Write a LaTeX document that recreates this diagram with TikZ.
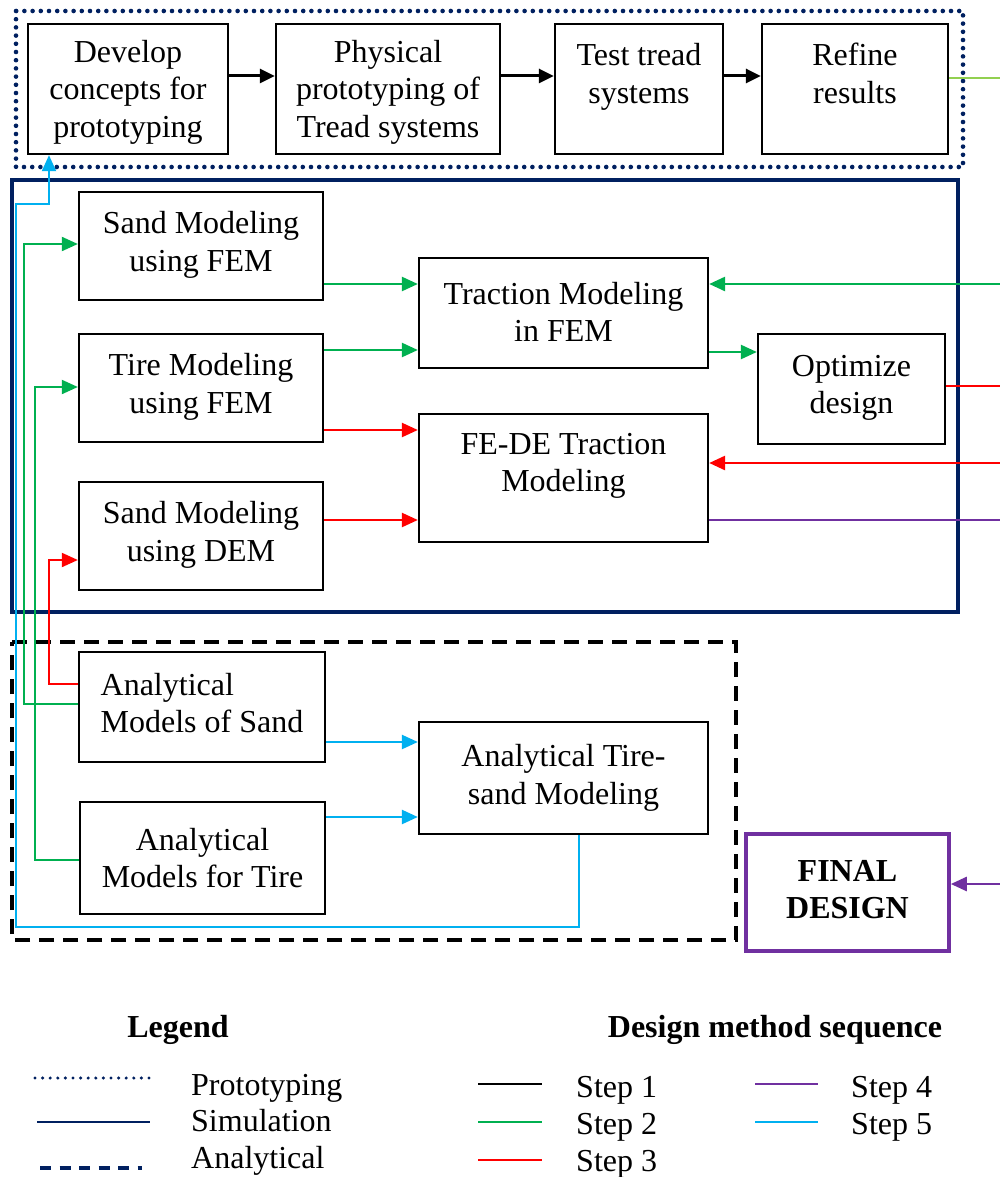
\documentclass[tikz,border=0pt]{standalone}
\usepackage{fontspec}
\setmainfont{Liberation Serif}
\usetikzlibrary{arrows.meta}
\definecolor{navy}{HTML}{002060}
\definecolor{sgreen}{HTML}{00B050}
\definecolor{sred}{HTML}{FF0000}
\definecolor{spurple}{HTML}{7030A0}
\definecolor{sblue}{HTML}{00B0F0}
\definecolor{lgreen}{HTML}{92D050}
\begin{document}
\begin{tikzpicture}[x=1pt,y=-1pt,
  txt/.style={font=\fontsize{32}{37.5}\selectfont},
  btxt/.style={font=\fontsize{32}{37.5}\selectfont\bfseries},
  box/.style={draw=black, line width=2.3pt, inner sep=0pt},
  lbl/.style={txt, align=center, inner sep=0pt},
  tip/.style={-{Triangle[length=16pt,width=14pt]}},
  blk/.style={draw=black, line width=3pt, -{Triangle[length=15pt,width=14pt]}},
  gr/.style={draw=sgreen, line width=2.4pt},
  rd/.style={draw=sred, line width=2.4pt},
  pu/.style={draw=spurple, line width=2pt},
  bl/.style={draw=sblue, line width=2pt},
  lg/.style={draw=lgreen, line width=2pt},
  protoframe/.style={draw=navy, line width=4.6pt, line cap=round, dash pattern=on 0pt off 8.2pt},
  simframe/.style={draw=navy, line width=4pt},
  anaframe/.style={draw=black, line width=4pt, dash pattern=on 15pt off 9pt},
]
\useasboundingbox (0,0) rectangle (1000,1177);
\fill[white] (0,0) rectangle (1000,1177);

% frames
\draw[protoframe] (16,11) rectangle (963,167);
\draw[simframe] (12,180) rectangle (958,612);
\draw[anaframe] (12,642) -- (736,642) -- (736,940) -- (12,940) -- cycle;

% top row
\node[box, minimum width=200pt, minimum height=130pt] (dev) at (128,89) {};
\node[box, minimum width=224pt, minimum height=130pt] (phys) at (388,89) {};
\node[box, minimum width=168pt, minimum height=130pt] (test) at (639,89) {};
\node[box, minimum width=186pt, minimum height=130pt] (ref) at (855,89) {};
\node[lbl] (devt) at ([yshift=-3pt]dev.center) {Develop\\concepts for\\prototyping};
\node[lbl] (physt) at ([yshift=-3pt]phys.center) {Physical\\prototyping of\\Tread systems};
\node[lbl] (testt) at ([yshift=-3pt]test.center) {Test tread\\systems\\\mbox{}};
\node[lbl] (reft) at ([yshift=-3pt]ref.center) {Refine\\results\\\mbox{}};

% simulation
\node[box, minimum width=244pt, minimum height=108pt] (sfem) at (201,246) {};
\node[box, minimum width=244pt, minimum height=108pt] (tfem) at (201,388) {};
\node[box, minimum width=244pt, minimum height=108pt] (sdem) at (201,536) {};
\node[box, minimum width=289pt, minimum height=110pt] (trac) at (563.5,313) {};
\node[box, minimum width=289pt, minimum height=128pt] (fede) at (563.5,478) {};
\node[box, minimum width=187pt, minimum height=110pt] (opt) at (851.5,389) {};
\node[lbl] (sfemt) at ([yshift=1pt]sfem.center) {Sand Modeling\\using FEM};
\node[lbl] (tfemt) at ([yshift=1pt]tfem.center) {Tire Modeling\\using FEM};
\node[lbl] (sdemt) at ([yshift=1pt]sdem.center) {Sand Modeling\\using DEM};
\node[lbl] (tract) at ([yshift=1pt]trac.center) {Traction Modeling\\in FEM};
\node[lbl] (fedet) at ([yshift=-3pt]fede.center) {FE-DE Traction\\Modeling\\\mbox{}};
\node[lbl] (optt) at ([yshift=1pt]opt.center) {Optimize\\design};

% analytical
\node[box, minimum width=246pt, minimum height=110pt] (asand) at (202,707) {};
\node[box, minimum width=245pt, minimum height=112pt] (atire) at (202.5,858) {};
\node[box, minimum width=289pt, minimum height=112pt] (ats) at (563.5,778) {};
\node[box, draw=spurple, line width=3.6pt, minimum width=203pt, minimum height=117pt] (final) at (847.5,892.5) {};
\node[lbl, align=left] (asandt) at ([yshift=4pt]asand.center) {Analytical\\Models of Sand};
\node[lbl] (atiret) at (atire.center) {Analytical\\Models for Tire};
\node[lbl] (atst) at (ats.center) {Analytical Tire-\\sand Modeling};
\node[lbl, btxt] (finalt) at ([yshift=3pt]final.center) {FINAL\\DESIGN};

% right edge coordinates
\coordinate (e1) at (1000,78);
\coordinate (e2) at (1000,284);
\coordinate (e3) at (1000,386);
\coordinate (e4) at (1000,463);
\coordinate (e5) at (1000,520);
\coordinate (e6) at (1000,884);

% step 1
\draw[blk] (dev.east |- 0,76) -- (phys.west |- 0,76);
\draw[blk] (phys.east |- 0,76) -- (test.west |- 0,76);
\draw[blk] (test.east |- 0,76) -- (ref.west |- 0,76);
\draw[lg] (ref.east |- e1) -- (e1);

% step 2
\draw[gr, line width=2pt, tip] (asand.west |- 0,704) -- (24,704) -- (24,244) -- (sfem.west |- 0,244);
\draw[gr, line width=2pt, tip] (atire.west |- 0,860) -- (35,860) -- (35,387) -- (tfem.west |- 0,387);
\draw[gr, tip] (sfem.east |- 0,284) -- (trac.west |- 0,284);
\draw[gr, tip] (tfem.east |- 0,350) -- (trac.west |- 0,350);
\draw[gr, tip] (trac.east |- 0,352) -- (opt.west |- 0,352);
\draw[gr, line width=2.7pt, tip] (e2) -- (trac.east |- e2);

% step 3
\draw[rd, line width=2pt, tip] (asand.west |- 0,684) -- (49,684) -- (49,560) -- (sdem.west |- 0,560);
\draw[rd, tip] (tfem.east |- 0,430) -- (fede.west |- 0,430);
\draw[rd, tip] (sdem.east |- 0,520) -- (fede.west |- 0,520);
\draw[rd, line width=2pt] (opt.east |- e3) -- (e3);
\draw[rd, line width=2.7pt, tip] (e4) -- (fede.east |- e4);

% step 4
\draw[pu] (fede.east |- e5) -- (e5);
\draw[pu, line width=2.6pt, tip] (e6) -- (final.east |- e6);

% step 5
\draw[bl, line width=2.4pt, tip] (asand.east |- 0,742) -- (ats.west |- 0,742);
\draw[bl, line width=2.4pt, tip] (atire.east |- 0,817) -- (ats.west |- 0,817);
\draw[bl, tip] (ats.south -| 579,0) -- (579,927) -- (16,927) -- (16,204) -- (49,204) -- (dev.south -| 49,0);

% legend
\node[btxt, anchor=base] (lgh) at (178,1037) {Legend};
\node[btxt, anchor=base] (dmh) at (775,1037) {Design method sequence};

\coordinate (l1a) at (35,1078); \coordinate (l1b) at (155,1078);
\coordinate (l2a) at (37,1122); \coordinate (l2b) at (150,1122);
\coordinate (l3a) at (40,1168); \coordinate (l3b) at (142,1168);
\draw[draw=navy, line width=3.4pt, line cap=round, dash pattern=on 0pt off 7.6pt] (l1a) -- (l1b);
\draw[draw=navy, line width=2.8pt] (l2a) -- (l2b);
\draw[draw=navy, line width=4.5pt, dash pattern=on 11pt off 8.5pt] (l3a) -- (l3b);
\node[txt, anchor=base west, inner sep=0pt] (lt1) at (191,1095) {Prototyping};
\node[txt, anchor=base west, inner sep=0pt] (lt2) at (191,1131) {Simulation};
\node[txt, anchor=base west, inner sep=0pt] (lt3) at (191,1168) {Analytical};

\coordinate (s1a) at (478,1084); \coordinate (s1b) at (542,1084);
\coordinate (s2a) at (478,1122); \coordinate (s2b) at (542,1122);
\coordinate (s3a) at (478,1160); \coordinate (s3b) at (542,1160);
\coordinate (s4a) at (755,1084); \coordinate (s4b) at (818,1084);
\coordinate (s5a) at (755,1122); \coordinate (s5b) at (818,1122);
\draw[draw=black, line width=2pt] (s1a) -- (s1b);
\draw[gr, line width=2pt] (s2a) -- (s2b);
\draw[rd, line width=2pt] (s3a) -- (s3b);
\draw[pu] (s4a) -- (s4b);
\draw[bl] (s5a) -- (s5b);
\node[txt, anchor=base west, inner sep=0pt] (st1) at (576,1097) {Step 1};
\node[txt, anchor=base west, inner sep=0pt] (st2) at (576,1134) {Step 2};
\node[txt, anchor=base west, inner sep=0pt] (st3) at (576,1171) {Step 3};
\node[txt, anchor=base west, inner sep=0pt] (st4) at (851,1097) {Step 4};
\node[txt, anchor=base west, inner sep=0pt] (st5) at (851,1134) {Step 5};
\end{tikzpicture}
\end{document}
